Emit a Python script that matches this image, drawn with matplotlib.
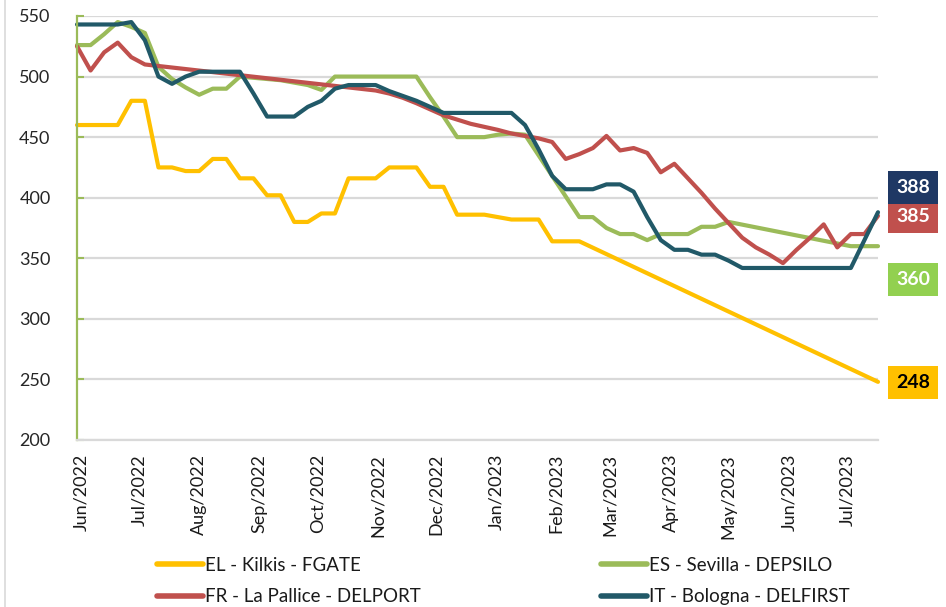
import numpy as np
import pandas as pd
import matplotlib
matplotlib.use("Agg")
import matplotlib.pyplot as plt
import matplotlib.dates as mdates
from matplotlib.lines import Line2D

nan = np.nan

# weekly observation dates
dates = pd.date_range("2022-05-30", periods=60, freq="7D")

el_kilkis = [460, 460, 460, 460, 480, 480, 425, 425, 422, 422,
             432, 432, 416, 416, 402, 402, 380, 380, 387, 387,
             416, 416, 416, 425, 425, 425, 409, 409, 386, 386,
             386, 384, 382, 382, 382, 364, 364, 364, nan, nan,
             nan, nan, nan, nan, nan, nan, nan, nan, nan, nan,
             nan, nan, nan, nan, nan, nan, nan, nan, nan, 248]

es_sevilla = [526, 526, 535, 545, 541, 536, 508, 498, 491, 485,
              490, 490, 500, 499, 498, 497, 495, 493, 489, 500,
              500, 500, 500, 500, 500, 500, 483, 467, 450, 450,
              450, 452, 453, 452, 435, 418, 401, 384, 384, 375,
              370, 370, 365, 370, 370, 370, 376, 376, 380, nan,
              nan, nan, nan, nan, nan, nan, nan, 360, 360, 360]

fr_lapallice = [525, 505, 520, 528, 516, 510, nan, nan, nan, nan,
                nan, nan, nan, nan, nan, nan, nan, nan, nan, nan,
                nan, nan, 488.5, 486, 482.5, 478, 473, 468, 464.5, 461,
                458.5, 456, 453, 451, 449, 446, 432, 436, 441, 451,
                439, 441, 437, 421, 428, 416, 404, 391, 379, 367,
                359, 353, 346, 357, 367, 378, 359, 370, 370, 385]

it_bologna = [543, 543, 543, 543, 545, 530, 500, 494, 500, 504,
              504, 504, 504, 486, 467, 467, 467, 475, 480, 490,
              493, 493, 493, 488, 484, 480, 475, 470, 470, 470,
              470, 470, 470, 460, 440, 418, 407, 407, 407, 411,
              411, 405, 384, 365, 357, 357, 353, 353, 348, 342,
              342, 342, 342, 342, 342, 342, 342, 342, 365, 388]

series_names = ["EL - Kilkis - FGATE", "ES - Sevilla - DEPSILO",
                "FR - La Pallice - DELPORT", "IT - Bologna - DELFIRST"]
series_values = [el_kilkis, es_sevilla, fr_lapallice, it_bologna]
colors = ["#FFC000", "#9BBB59", "#C0504D", "#215968"]
box_colors = ["#FFC000", "#92D050", "#C0504D", "#1F3864"]
box_text_colors = ["black", "white", "white", "white"]
# vertical placement (data units) of the end-value boxes
box_y = [247.5, 332.5, 384.5, 408.5]

yticks = [200, 250, 300, 350, 400, 450, 500, 550]
month_ticks = pd.date_range("2022-06-01", "2023-07-01", freq="MS")

FONT = "Lato"
plt.rcParams["font.family"] = [FONT, "DejaVu Sans"]

W, H = 946, 607
fig = plt.figure(figsize=(W / 100, H / 100), dpi=100)
ax = fig.add_axes([77 / W, 1 - 440 / H, (878 - 77) / W, (440 - 16) / H])

handles = []
for name, vals, col in zip(series_names, series_values, colors):
    s = pd.Series(vals, index=dates, dtype=float).dropna()
    ln, = ax.plot(s.index, s.values, color=col, lw=3.0, solid_joinstyle="round",
                  solid_capstyle="round", label=name, clip_on=False)
    handles.append(ln)

ax.set_xlim(dates[0], dates[-1])
ax.set_ylim(200, 550)
ax.set_yticks(yticks)
ax.set_xticks(month_ticks)
ax.xaxis.set_major_formatter(mdates.DateFormatter("%b/%Y"))
for lab in ax.get_xticklabels():
    lab.set_rotation(90)
ax.tick_params(axis="x", length=0, pad=10, labelsize=13, labelcolor="#1a1a1a")
ax.tick_params(axis="y", direction="in", length=5, width=1.5, color="#9BBB59",
               pad=19, labelsize=13, labelcolor="#262626")
ax.grid(axis="y", color="#D9D9D9", lw=1.6)
ax.set_axisbelow(True)
for sp in ["top", "right"]:
    ax.spines[sp].set_visible(False)
ax.spines["left"].set_color("#9BBB59")
ax.spines["left"].set_linewidth(1.6)
ax.spines["bottom"].set_color("#D9D9D9")
ax.spines["bottom"].set_linewidth(1.6)

# end-value boxes
for vals, by, bc, tc in zip(series_values, box_y, box_colors, box_text_colors):
    last = [v for v in vals if not np.isnan(v)][-1]
    ax.annotate(f"{last:.0f}", xy=(913 / W, by), xycoords=("figure fraction", "data"),
                ha="center", va="center", fontsize=14, fontweight="bold", color=tc,
                bbox=dict(boxstyle="square,pad=0.4", fc=bc, ec="none"),
                annotation_clip=False)

# legends (two columns)
leg_kw = dict(frameon=False, fontsize=13.5, handlelength=2.45, handletextpad=0.1,
              labelspacing=0.75, borderaxespad=0, borderpad=0)
for hl, xpos in [((handles[0], handles[2]), 157), ((handles[1], handles[3]), 601)]:
    lg = fig.legend(hl, [h.get_label() for h in hl], loc="upper left",
                    bbox_to_anchor=(xpos / W, 1 - 557 / H), **leg_kw)
    for t in lg.get_texts():
        t.set_color("#1a1a1a")
    for l in lg.get_lines():
        l.set_linewidth(4)

# outer border line on the left
fig.add_artist(Line2D([5 / W, 5 / W], [0, 1], transform=fig.transFigure,
                      color="#D9D9D9", lw=1.2))

fig.savefig("out.png", dpi=100)
